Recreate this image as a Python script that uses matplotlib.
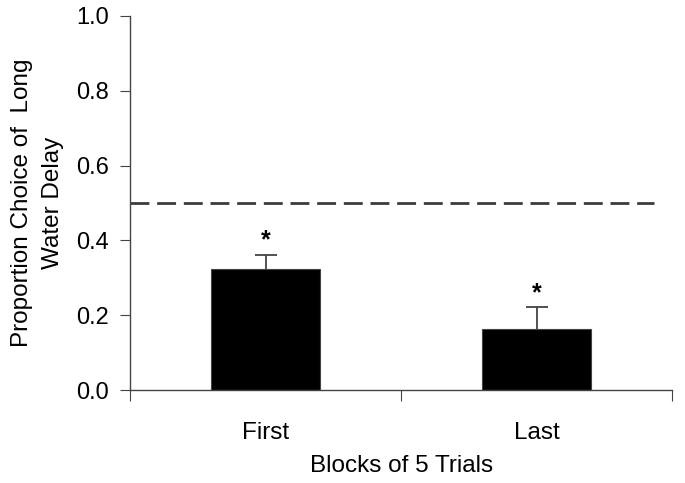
import matplotlib
matplotlib.use("Agg")
import matplotlib.pyplot as plt

categories = ["First", "Last"]
values = [0.323, 0.162]
errors = [0.039, 0.059]
chance = 0.5
yticks = [0.0, 0.2, 0.4, 0.6, 0.8, 1.0]

plt.rcParams['font.family'] = ['Liberation Sans', 'DejaVu Sans']
fig = plt.figure(figsize=(6.85, 4.83), dpi=100)
ax = fig.add_axes([0.19, 0.1925, 0.791, 0.7745])

x = list(range(len(categories)))
ax.bar(x, values, width=0.405, color='black', edgecolor='#444444', linewidth=0.8, zorder=2)
eb = ax.errorbar(x, values, yerr=[[0]*len(errors), errors], fmt='none', ecolor='#444444',
                 elinewidth=1.3, capsize=8, capthick=1.3, zorder=3)
# hide lower caps
caps = eb[1]
if len(caps) >= 2:
    caps[0].set_visible(False)
for xi, v, e in zip(x, values, errors):
    ax.text(xi, v + e + 0.005, "*", ha='center', va='bottom', fontsize=18, fontweight='bold')

ax.plot([-0.5, 1.434], [chance, chance], color='#3c3c3c', linestyle=(0, (6.8, 2.8)),
        linewidth=2.0, zorder=1)

ax.set_xlim(-0.5, 1.5)
ax.set_ylim(0, 1.0)
ax.set_yticks(yticks)
ax.set_yticklabels([f"{t:.1f}" for t in yticks])
ax.set_xticks([-0.5, 0.5, 1.5])
ax.set_xticklabels([])
ax.set_xticks(x, minor=True)
ax.set_xticklabels(categories, minor=True)
ax.tick_params(axis='x', which='minor', length=0, pad=23, labelsize=17.5)
ax.tick_params(axis='x', which='major', length=8, direction='out', color='#444444')
ax.tick_params(axis='y', length=7, direction='out', color='#444444', labelsize=17, pad=8)
for s in ['top', 'right']:
    ax.spines[s].set_visible(False)
for s in ['left', 'bottom']:
    ax.spines[s].set_color('#444444')
    ax.spines[s].set_linewidth(1.0)

ax.set_xlabel("Blocks of 5 Trials", fontsize=17.5, labelpad=8)
ax.set_ylabel("Proportion Choice of  Long\nWater Delay", fontsize=17.5, labelpad=9, linespacing=1.5)

fig.savefig("out.png", dpi=100)
